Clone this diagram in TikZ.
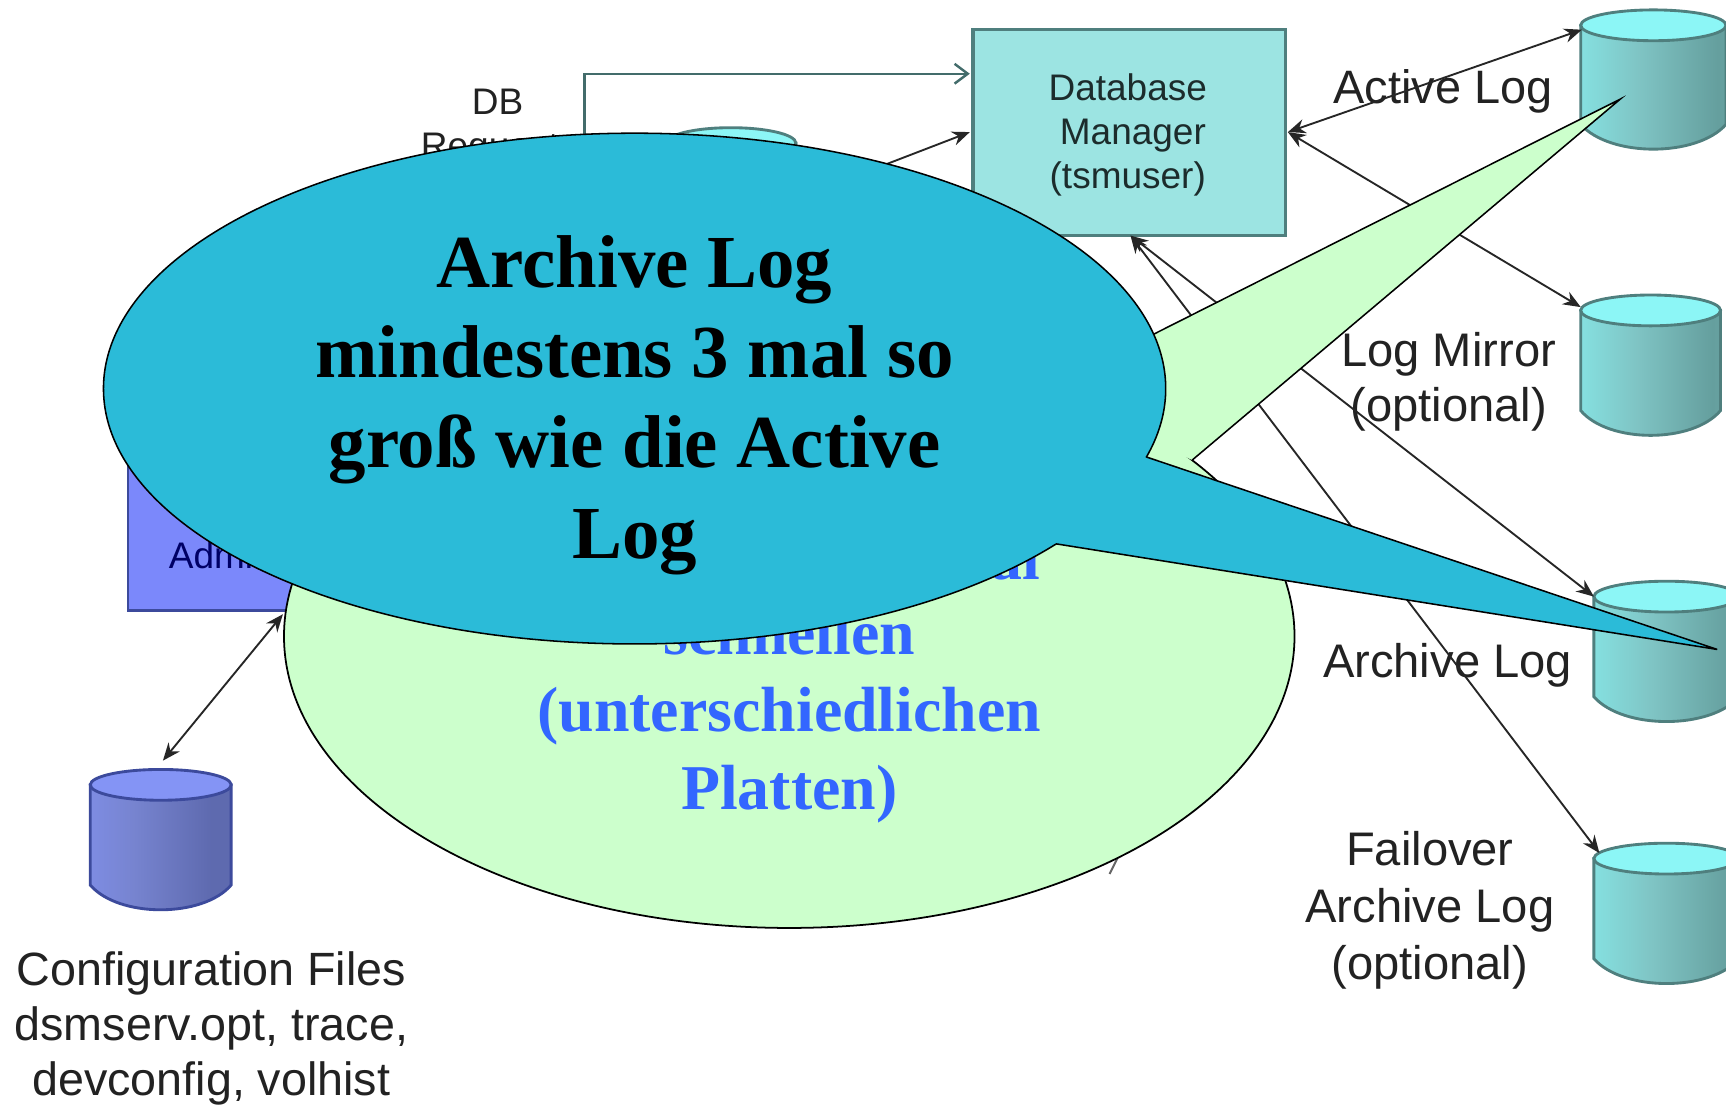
\documentclass[tikz,border=0pt]{standalone}
\usepackage{fontspec}
\setmainfont{Liberation Sans}
\newfontfamily\serifb{Liberation Serif}
\usetikzlibrary{arrows.meta,shadings}
\definecolor{tealbox}{HTML}{9CE4E2}
\definecolor{tealedge}{HTML}{4F7F7E}
\definecolor{tealtop}{HTML}{8CF6F6}
\definecolor{tealA}{HTML}{86E4E4}
\definecolor{tealB}{HTML}{7FC4C4}
\definecolor{tealC}{HTML}{659F9E}
\definecolor{tealD}{HTML}{6CA9A7}
\definecolor{bluebox}{HTML}{7B88FB}
\definecolor{blueedge}{HTML}{3C4A9C}
\definecolor{bluetop}{HTML}{8494F5}
\definecolor{blueB}{HTML}{7784D0}
\definecolor{blueC}{HTML}{5E6AAF}
\definecolor{blueD}{HTML}{6570C0}
\definecolor{callgreen}{HTML}{CCFFCC}
\definecolor{callblue}{HTML}{2BBBD8}
\definecolor{calltext}{HTML}{3366FF}
\definecolor{lblgray}{HTML}{222222}
\pgfdeclarehorizontalshading{tealcyl}{100bp}{color(0bp)=(tealtop);color(8bp)=(tealtop);color(22bp)=(tealA);color(45bp)=(tealB);color(72bp)=(tealC);color(86bp)=(tealD);color(100bp)=(tealD)}
\pgfdeclarehorizontalshading{bluecyl}{100bp}{color(0bp)=(bluetop);color(10bp)=(bluetop);color(40bp)=(blueB);color(68bp)=(blueC);color(85bp)=(blueC);color(100bp)=(blueD)}
\tikzset{
  x=0.5pt,y=-0.5pt,
  lbl/.style={text=lblgray,align=center,inner sep=0pt},
  boxlbl/.style={align=center,inner sep=0pt,font=\fontsize{16.8}{20}\selectfont},
  small/.style={align=center,inner sep=0pt,font=\fontsize{16.8}{20}\selectfont,text=lblgray},
  conn/.style={draw=black!85,line width=0.85pt,-{Stealth[length=8pt,width=6.5pt]}},
  biconn/.style={draw=black!85,line width=0.85pt,{Stealth[length=8pt,width=6.5pt]}-{Stealth[length=8pt,width=6.5pt]}},
  reqline/.style={draw=tealedge!85!black,line width=1.1pt,-{Straight Barb[length=6pt,width=9pt]}},
}
% #1 name, #2 x left, #3 y top, #4 width, #5 height, #6 shading, #7 top colour, #8 edge colour
\newcommand{\cylshape}[8]{%
  \coordinate (#1) at (#2,#3);
  \path[shading=#6,shading angle=0,draw=#8,line width=1.3pt]
    (#2,#3+14) -- (#2,#3+#5-22)
    .. controls (#2+#4*0.2,#3+#5+8) and (#2+#4*0.8,#3+#5+8) .. (#2+#4,#3+#5-22)
    -- (#2+#4,#3+14) -- cycle;
  \path[fill=#7,draw=#8,line width=1.3pt]
    (#2+#4/2,#3+14) ellipse [x radius=#4/2,y radius=14];
}
\begin{document}
\begin{tikzpicture}
\useasboundingbox (0,0) rectangle (1568,1005.6);
\fill[white] (0,0) rectangle (1568,1005.6);

% original diagram
\node[draw=tealedge,line width=1.4pt,fill=tealbox,minimum width=142pt,minimum height=93.5pt,inner sep=0pt,anchor=north west] (dbm) at (882.5,25.5) {};
\node[boxlbl,text=black!65!tealedge] (dbmtxt) at (1024.5,123) {Database\\\ Manager\\(tsmuser)};
\node[draw=blueedge,line width=1.2pt,fill=bluebox,minimum width=100pt,minimum height=100pt,inner sep=0pt,anchor=south west] (admin) at (115,556) {};
\node[boxlbl,text=blue!40!black,anchor=west] (admintxt) at (153,504) {Admin};

\cylshape{cactive}{1436}{9}{132}{126}{tealcyl}{tealtop}{tealedge}
\cylshape{cmirror}{1436}{268}{127}{127}{tealcyl}{tealtop}{tealedge}
\cylshape{carchive}{1448}{528}{132}{127}{tealcyl}{tealtop}{tealedge}
\cylshape{cfail}{1448}{766}{132}{127}{tealcyl}{tealtop}{tealedge}
\cylshape{cconf}{82}{699}{128}{127}{bluecyl}{bluetop}{blueedge}
\cylshape{cmid}{605}{116}{118}{90}{tealcyl}{tealtop}{tealedge}

\node[small] (dbreq) at (445,116) {\hspace*{7pt}DB\\Request};
\node[lbl,font=\fontsize{21.3}{27}\selectfont] (lactive) at (1311,83) {Active Log};
\node[lbl,font=\fontsize{21.4}{25}\selectfont] (lmirror) at (1316,347) {Log Mirror\\(optional)};
\node[lbl,font=\fontsize{21.4}{25}\selectfont] (larchive) at (1315,604) {Archive Log};
\node[lbl,font=\fontsize{21.4}{26}\selectfont] (lfail) at (1299,827) {Failover\\Archive Log\\(optional)};
\node[lbl,font=\fontsize{21.2}{25}\selectfont] (lconf) at (192,934) {Configuration Files\\dsmserv.opt, trace,\\devconfig, volhist};

\coordinate (dbmr) at (1170,120);
\coordinate (dbmb) at (1027,214);
\coordinate (dbml) at (881,67);
\coordinate (dbml2) at (881,120);
\coordinate (req) at (531,140);
\coordinate (midr) at (790,155);
\coordinate (aiA) at (1437,27);
\coordinate (aiM) at (1436,279);
\coordinate (aiR) at (1448,542);
\coordinate (aiF) at (1453,775);
\coordinate (admb) at (257,558);
\coordinate (conft) at (148,691);
\coordinate (hid1) at (1008,794);
\coordinate (hid2) at (1018,774);

\draw[reqline] (req) |- (dbml);
\draw[conn] (midr) -- (dbml2);
\draw[biconn] (dbmr) -- (aiA);
\draw[biconn] (dbmr) -- (aiM);
\draw[biconn] (dbmb) -- (aiR);
\draw[biconn] (dbmb) -- (aiF);
\draw[biconn] (admb) -- (conft);
\draw[draw=black!60,line width=0.9pt] (hid1) -- (hid2);

% green callout
\path[fill=callgreen,draw=black,line width=0.8pt] (717,578) ellipse [x radius=459,y radius=265];
\path[fill=callgreen] (950,353) -- (1472,90) -- (1083,418) -- cycle;
\draw[line width=0.7pt] (950,353) -- (1472,90) -- (1083,418);
\node[inner sep=0pt,align=center,text=calltext,font=\serifb\bfseries\fontsize{29}{35}\selectfont] (gtxt) at (717,651)
  {schnellen\\(unterschiedlichen\\Platten)};
\node[inner sep=0pt,anchor=base east,text=calltext,font=\serifb\bfseries\fontsize{29}{35}\selectfont] (gfrag) at (945,526) {al};

% blue callout
\path[fill=callblue,draw=black,line width=0.7pt] (576.5,353) ellipse [x radius=482.5,y radius=232];
\path[fill=callblue] (959,494) -- (1560,590) -- (1041,415) -- (900,415) -- cycle;
\draw[line width=0.7pt] (959,494) -- (1560,590) -- (1041,415);
\node[inner sep=0pt,align=center,text=black,font=\serifb\bfseries\fontsize{34}{41}\selectfont] (btxt) at (576.5,368)
  {Archive Log\\mindestens 3 mal so\\groß wie die Active\\Log};
\end{tikzpicture}
\end{document}
